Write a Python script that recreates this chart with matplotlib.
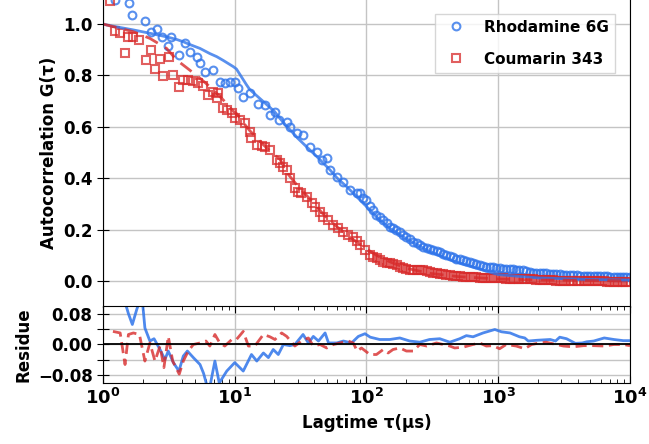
import math
import matplotlib
matplotlib.use("Agg")
import matplotlib.pyplot as plt
from matplotlib.ticker import FuncFormatter, LogLocator, NullFormatter

plt.rcParams["font.family"] = ["DejaVu Sans"]
plt.rcParams["font.weight"] = "bold"
plt.rcParams["axes.labelweight"] = "bold"
plt.rcParams["mathtext.fontset"] = "dejavusans"

# data
tau_r6g = [1.23, 1.58, 1.67, 2.08, 2.30, 2.55, 2.79, 3.13, 3.28, 3.77, 4.19, 4.57, 5.14, 5.44, 5.95,
           6.88, 7.7, 8.4, 9.2, 10.0, 10.6, 11.6, 13.0, 15.1, 16.9, 18.5, 20.2, 21.8, 24.8, 26.2,
           29.5, 33.2, 37.3, 41.9, 45.8, 50.1, 52.9, 59.5, 66.8, 75.2, 84.3, 89.3, 94.6, 100, 106,
           112.6, 119, 126, 134, 142, 150, 159, 168, 179, 190, 201, 213, 226, 240, 254, 270, 286,
           303, 321, 340, 360, 382, 404, 429, 454, 482, 510, 541, 573, 608, 644, 683, 723, 767,
           812, 861, 912, 967, 1024, 1086, 1150, 1220, 1290, 1370, 1450, 1540, 1630, 1730, 1830,
           1940, 2060, 2180, 2310, 2450, 2600, 2760, 2920, 3100, 3280, 3480, 3700, 3940, 4180,
           4440, 4690, 5000, 5330, 5650, 5950, 6380, 6700, 7020, 7550, 8000, 8400, 8900, 9400, 10000]
g_r6g = [1.093, 1.08, 1.035, 1.013, 0.97, 0.98, 0.948, 0.914, 0.95, 0.879, 0.927, 0.89, 0.87, 0.85,
         0.814, 0.821, 0.775, 0.772, 0.775, 0.775, 0.75, 0.717, 0.73, 0.69, 0.685, 0.646, 0.659,
         0.626, 0.62, 0.60, 0.575, 0.568, 0.523, 0.503, 0.471, 0.477, 0.432, 0.406, 0.386, 0.354,
         0.341, 0.341, 0.322, 0.315, 0.29, 0.276, 0.257, 0.25, 0.237, 0.224, 0.211, 0.205, 0.198,
         0.192, 0.18, 0.172, 0.162, 0.153, 0.146, 0.14, 0.132, 0.127, 0.123, 0.121, 0.117, 0.114,
         0.106, 0.101, 0.096, 0.092, 0.087, 0.084, 0.081, 0.079, 0.073, 0.069, 0.066, 0.062, 0.059,
         0.056, 0.054, 0.053, 0.05, 0.049, 0.048, 0.047, 0.046, 0.045, 0.044, 0.043, 0.041, 0.039,
         0.035, 0.032, 0.031, 0.03, 0.03, 0.03, 0.028, 0.027, 0.027, 0.027, 0.025, 0.023, 0.024,
         0.023, 0.023, 0.021, 0.021, 0.02, 0.02, 0.019, 0.019, 0.018, 0.019, 0.018, 0.017, 0.016,
         0.015, 0.016, 0.015, 0.014, 0.014]

tau_c343 = [1.13, 1.23, 1.35, 1.47, 1.56, 1.70, 1.89, 2.12, 2.30, 2.48, 2.71, 2.87, 3.17, 3.38, 3.77,
            4.06, 4.44, 4.85, 5.3, 5.78, 6.3, 6.88, 7.3, 7.5, 8.2, 8.7, 9.5, 10.0, 10.9, 11.9, 13.0,
            13.4, 14.7, 16.0, 16.9, 18.5, 20.8, 22.0, 23.4, 24.8, 26.2, 28.6, 30.3, 32.1, 35.1, 38.3,
            40.6, 44.4, 47.0, 51.1, 55.7, 61.0, 66.7, 72.8, 79.3, 85, 89.3, 97.9, 107, 113, 120, 127,
            134, 142, 150, 159, 169, 179, 190, 201, 214, 226, 240, 254, 270, 286, 303, 321, 340, 360,
            382, 404, 429, 454, 482, 510, 541, 573, 608, 644, 683, 723, 767, 812, 861, 912, 967, 1024,
            1086, 1150, 1220, 1290, 1370, 1450, 1540, 1630, 1730, 1830, 1940, 2060, 2180, 2310, 2450,
            2600, 2760, 2920, 3100, 3280, 3480, 3700, 3940, 4180, 4440, 4690, 5000, 5330, 5650, 5950,
            6380, 6700, 7020, 7550, 8000, 8400, 8900, 9400, 10000]
g_c343 = [1.09, 0.974, 0.964, 0.886, 0.948, 0.95, 0.938, 0.86, 0.899, 0.824, 0.863, 0.798, 0.87, 0.80,
          0.754, 0.782, 0.782, 0.778, 0.769, 0.759, 0.724, 0.737, 0.711, 0.73, 0.672, 0.665, 0.652,
          0.633, 0.626, 0.614, 0.581, 0.555, 0.529, 0.525, 0.52, 0.51, 0.471, 0.458, 0.445, 0.432,
          0.40, 0.361, 0.347, 0.341, 0.328, 0.302, 0.289, 0.27, 0.25, 0.237, 0.218, 0.205, 0.192,
          0.179, 0.172, 0.155, 0.14, 0.121, 0.101, 0.095, 0.088, 0.081, 0.075, 0.072, 0.069, 0.066,
          0.062, 0.055, 0.049, 0.046, 0.043, 0.043, 0.043, 0.043, 0.043, 0.04, 0.036, 0.033, 0.03,
          0.028, 0.027, 0.025, 0.023, 0.021, 0.019, 0.018, 0.017, 0.016, 0.014, 0.014, 0.014, 0.012,
          0.01, 0.01, 0.01, 0.01, 0.01, 0.01, 0.01, 0.009, 0.008, 0.008, 0.008, 0.008, 0.008, 0.007,
          0.007, 0.006, 0.005, 0.004, 0.004, 0.004, 0.004, 0.003, 0.002, 0.001, 0.001, 0.001, 0.001,
          0.001, 0.001, 0.0, 0.0, 0.0, 0.0, 0.0, 0.0, 0.0, -0.001, -0.002, -0.002, -0.003, -0.003,
          -0.003, -0.003, -0.003, -0.003]

tau_fit = [1.0, 1.07, 1.7, 2.27, 3.04, 3.62, 4.07, 4.57, 5.45, 6.47, 7.3, 8.2, 9.76, 10.3, 12.3, 13,
           16.5, 20, 22, 25, 29.5, 30, 39.5, 40, 50, 52.9, 60, 70.8, 80, 94.6, 100, 119, 150, 200,
           300, 500, 1000, 2000, 5000, 10000]
fit_r6g = [1.0, 0.996, 0.977, 0.964, 0.95, 0.94, 0.931, 0.92, 0.905, 0.885, 0.873, 0.858, 0.834,
           0.825, 0.763, 0.745, 0.698, 0.66, 0.633, 0.6, 0.561, 0.556, 0.497, 0.495, 0.445, 0.432,
           0.4, 0.367, 0.34, 0.302, 0.29, 0.25, 0.205, 0.165, 0.115, 0.07, 0.025, 0.012, 0.006, 0.004]
fit_c343 = [1.0, 0.996, 0.97, 0.944, 0.905, 0.86, 0.84, 0.82, 0.789, 0.756, 0.73, 0.704, 0.66,
            0.652, 0.6, 0.585, 0.53, 0.49, 0.475, 0.42, 0.375, 0.37, 0.305, 0.3, 0.245, 0.235, 0.21,
            0.18, 0.16, 0.135, 0.125, 0.1, 0.075, 0.05, 0.03, 0.017, 0.008, 0.004, 0.002, 0.001]

tau_res_r6g = [1.23, 1.47, 1.56, 1.67, 1.8, 1.97, 2.08, 2.27, 2.44, 2.71, 2.95, 3.13, 3.42, 3.77, 4.07,
               4.37, 4.85, 5.45, 5.8, 6.13, 6.47, 7.07, 7.63, 8.7, 10.0, 11.6, 13.4, 14.7, 16.5, 18.0,
               19.6, 21.4, 23.4, 26.2, 28.6, 33, 36.2, 39.5, 43.2, 48.5, 51.5, 59.4, 66.8, 77, 86.7,
               97.4, 106.8, 126, 150, 179, 213, 254, 301, 360, 429, 510, 573, 644, 767, 942, 1058,
               1230, 1450, 1590, 1690, 1970, 2480, 2720, 2930, 3300, 3850, 4340, 4690, 5300, 6380,
               7550, 8900, 10000]
res_r6g = [0.16, 0.11, 0.08, 0.052, 0.09, 0.13, 0.043, 0.009, 0.015, -0.013, -0.039, -0.017, -0.047,
           -0.069, -0.03, -0.017, -0.034, -0.052, -0.075, -0.105, -0.11, -0.043, -0.1, -0.069, -0.047,
           -0.069, -0.026, -0.043, -0.022, -0.034, -0.013, -0.026, 0.0, -0.003, 0.0, 0.026, 0.004,
           0.021, 0.009, 0.03, 0.004, 0.004, 0.009, 0.004, 0.021, 0.028, 0.019, 0.013, 0.013, 0.017,
           0.009, 0.006, 0.013, 0.015, 0.006, 0.015, 0.023, 0.02, 0.03, 0.039, 0.033, 0.03, 0.02,
           0.017, 0.009, 0.011, 0.013, 0.009, 0.019, 0.015, 0.003, 0.004, 0.007, 0.009, 0.017, 0.013,
           0.01, 0.01]

tau_res_c343 = [1.19, 1.35, 1.47, 1.56, 1.7, 1.89, 2.08, 2.27, 2.48, 2.71, 2.9, 3.13, 3.38, 3.79, 4.07,
                4.44, 4.85, 5.45, 6.05, 6.47, 7.07, 7.7, 8.4, 9.5, 10.3, 11.6, 12.7, 14.2, 16.5, 18.5,
                20.2, 22.7, 24.8, 28.6, 32.1, 36.2, 39.5, 44.4, 49.9, 56, 63, 72.8, 79.3, 85, 91.6,
                106, 119, 134, 146, 159, 179, 201, 226, 254, 286, 340, 382, 429, 467, 541, 644, 723,
                812, 912, 1024, 1150, 1370, 1590, 1790, 2060, 2310, 2600, 3130, 3700, 4440, 5300,
                6380, 7550, 8900, 10000]
res_c343 = [0.034, 0.03, -0.052, 0.026, 0.03, 0.026, -0.043, 0.004, -0.043, -0.004, -0.06, 0.021,
            -0.043, -0.077, -0.043, -0.017, 0.0, 0.004, 0.009, -0.004, 0.026, 0.004, -0.004, 0.013,
            0.013, 0.034, -0.004, -0.004, 0.026, 0.02, 0.013, 0.03, 0.021, -0.004, 0.009, 0.017,
            -0.004, 0.0, -0.009, 0.0, 0.004, 0.009, 0.004, -0.017, -0.009, -0.026, -0.026, -0.013,
            -0.022, -0.013, -0.009, -0.017, -0.017, 0.0, -0.004, 0.004, 0.0, -0.004, -0.009, -0.007,
            0.0, 0.004, -0.004, -0.003, -0.011, 0.0, -0.004, -0.011, 0.0, 0.004, 0.006, 0.002,
            -0.004, -0.006, -0.003, -0.003, -0.004, 0.0, 0.0, -0.003]

blue = "#2f74ea"
red = "#d82a2a"

fig = plt.figure(figsize=(6.49, 4.44), dpi=100)
ax = fig.add_axes([0.1587, 0.3092, 0.812, 0.6946])
axr = fig.add_axes([0.1587, 0.1374, 0.812, 0.1734], sharex=ax)

ax.plot(tau_r6g, g_r6g, "o", ms=5.6, mfc="none", mec=blue, mew=1.5, alpha=0.8, label="Rhodamine 6G")
ax.plot(tau_c343, g_c343, "s", ms=5.6, mfc="none", mec=red, mew=1.5, alpha=0.75, label="Coumarin 343")
ax.plot(tau_fit, fit_r6g, "-", color=blue, lw=2, alpha=0.8)
ax.plot(tau_fit, fit_c343, "--", color=red, lw=2, alpha=0.8, dashes=(5, 3))

ax.set_xscale("log")
ax.set_xlim(1, 1e4)
ax.set_ylim(-0.1, 1.1)
ax.set_yticks([0.0, 0.2, 0.4, 0.6, 0.8, 1.0])
ax.grid(True, which="major", color="#c4c4c4", lw=1)
ax.tick_params(axis="x", which="both", labelbottom=False, length=0)
ax.tick_params(axis="y", direction="inout", length=8, labelsize=12)
ax.set_ylabel("Autocorrelation G(τ)", fontsize=12)
ax.legend(loc="upper right", labelspacing=1.1, borderaxespad=1.0,
          prop={"weight": "bold", "size": 11}, fancybox=False)

axr.plot(tau_res_r6g, res_r6g, "-", color=blue, lw=2, alpha=0.85)
axr.plot(tau_res_c343, res_c343, "--", color=red, lw=2, alpha=0.8, dashes=(4, 2))
axr.axhline(0, color="k", lw=1.3)
axr.set_ylim(-0.1, 0.1)
axr.set_yticks([-0.08, -0.04, 0.0, 0.04, 0.08])
axr.set_yticklabels(["\u22120.08", "", "0.00", "", "0.08"])
axr.grid(True, which="major", color="#c4c4c4", lw=1)
axr.xaxis.set_major_locator(LogLocator(base=10, numticks=10))
axr.xaxis.set_minor_locator(LogLocator(base=10, subs=range(2, 10), numticks=20))
axr.xaxis.set_minor_formatter(NullFormatter())
axr.xaxis.set_major_formatter(FuncFormatter(lambda v, p: r"$\mathbf{10^{%d}}$" % round(math.log10(v))))
axr.tick_params(axis="x", which="both", direction="in", top=True, labelsize=13)
axr.tick_params(axis="x", which="major", length=5)
axr.tick_params(axis="x", which="minor", length=3)
axr.tick_params(axis="y", direction="inout", length=8, labelsize=12)
axr.set_xlim(1, 1e4)
axr.set_xlabel("Lagtime τ(μs)", fontsize=12)
axr.set_ylabel("Residue", fontsize=12)

fig.savefig("out.png", dpi=100)
